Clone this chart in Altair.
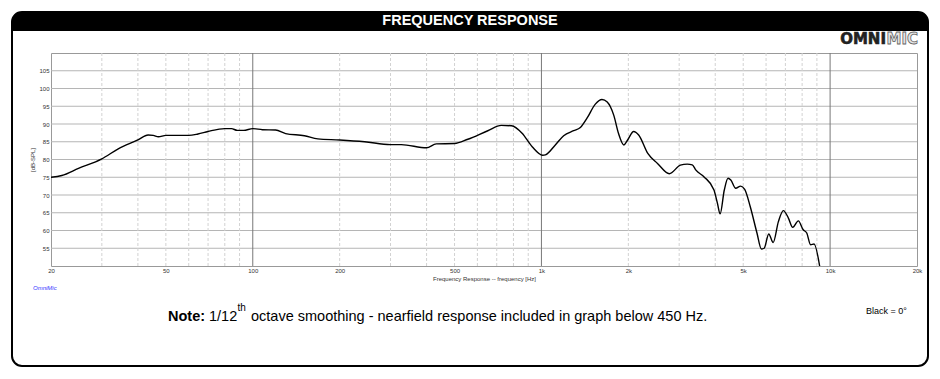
import altair as alt
import pandas as pd

# ---- data ----
freq_hz = [20, 21.8, 24.9, 30, 34.2, 40, 43.4, 45.2, 47.1, 50, 55, 60, 64.6, 70, 80, 84.4, 88.3, 93,
           100, 108, 120, 130, 151, 168, 200, 244, 300, 327, 400, 432, 500, 556, 652, 726, 788, 857,
           929, 1010, 1032, 1117, 1194, 1293, 1364, 1440, 1537, 1621, 1690, 1780, 1850, 1930, 1989,
           2086, 2172, 2336, 2524, 2774, 3028, 3200, 3330, 3430, 3660, 3960, 4070, 4160, 4300, 4430,
           4530, 4710, 4900, 5060, 5290, 5580, 5780, 5910, 6130, 6350, 6620, 6890, 7170, 7420, 7760,
           8070, 8300, 8560, 8800, 9200]
spl_db = [75.0, 75.5, 77.5, 80.2, 83.0, 85.5, 86.9, 86.8, 86.4, 86.8, 86.8, 86.8, 87.2, 87.9, 88.7, 88.7, 88.2, 88.2,
          88.7, 88.4, 88.3, 87.3, 86.7, 85.8, 85.5, 85.0, 84.2, 84.2, 83.3, 84.4, 84.5, 85.7, 88.1, 89.6, 89.5, 87.4,
          83.6, 81.2, 81.3, 84.1, 86.7, 88.1, 89.0, 91.7, 95.6, 96.9, 96.2, 92.5, 87.3, 84.1, 85.5,
          87.9, 86.9, 81.7, 78.9, 76.0, 78.4, 78.7, 78.5, 77.0, 75.1, 71.4, 67.7, 64.7, 71.4, 74.7,
          74.2, 71.9, 72.5, 71.6, 66.7, 59.3, 54.8, 55.0, 59.0, 56.6, 62.5, 65.6, 63.5, 60.9, 62.7,
          60.2, 59.3, 56.0, 56.2, 50.0]

x_ticks = [20, 50, 100, 200, 500, 1000, 2000, 5000, 10000, 20000]
y_ticks = [55, 60, 65, 70, 75, 80, 85, 90, 95, 100, 105]
minor_freqs = [30, 40, 50, 60, 70, 80, 90, 200, 300, 400, 500, 600, 700, 800, 900,
               2000, 3000, 4000, 5000, 6000, 7000, 8000, 9000]
major_freqs = [100, 1000, 10000]

chart_title = "FREQUENCY RESPONSE"
x_title = "Frequency Response -- frequency [Hz]"
y_title = "[dB-SPL]"
note_bold = "Note:"
note_a = "1/12"
note_sup = "th"
note_b = "octave smoothing - nearfield response included in graph below 450 Hz."
legend_text = "Black = 0°"
brand_small = "OmniMic"

W, H = 866, 213
xscale = alt.Scale(type="log", domain=[20, 20000], nice=False)
yscale = alt.Scale(domain=[50, 110], nice=False, zero=False)

xaxis = alt.Axis(values=x_ticks, title=x_title,
                 labelExpr="datum.value >= 1000 ? (datum.value/1000) + 'k' : datum.value + ''",
                 labelFontSize=6, labelColor="#333", labelPadding=1, labelOverlap=False,
                 labelFlush=False, ticks=False, domain=False, grid=False,
                 titleFontSize=6, titleFontWeight="normal", titleColor="#333", titlePadding=2)
yaxis = alt.Axis(values=y_ticks, title=y_title, labelFontSize=6, labelColor="#333",
                 labelPadding=2, labelFlush=False, ticks=False, domain=False, grid=False,
                 titleFontSize=6, titleFontWeight="normal", titleColor="#333", titlePadding=3)

one = pd.DataFrame({"a": [0]})
curve = pd.DataFrame({"f": freq_hz, "db": spl_db})

frame = alt.Chart(one).mark_rect(filled=False, stroke="black", strokeWidth=2, cornerRadius=10).encode(
    x=alt.value(-39), x2=alt.value(877), y=alt.value(-41), y2=alt.value(313))
bar = alt.Chart(one).mark_rect(fill="black", cornerRadiusTopLeft=10, cornerRadiusTopRight=10).encode(
    x=alt.value(-39), x2=alt.value(877), y=alt.value(-41), y2=alt.value(-22))
title_txt = alt.Chart(one).mark_text(text=chart_title, color="white", font="Liberation Sans",
                                     fontWeight="bold", fontSize=14.5, align="center", baseline="middle").encode(
    x=alt.value(419), y=alt.value(-32))
logo1 = alt.Chart(one).mark_text(text="OMNI", color="#222", stroke="#222", strokeWidth=0.6,
                                 font="DejaVu Sans", fontWeight="bold",
                                 fontSize=15, align="right", baseline="alphabetic").encode(
    x=alt.value(835), y=alt.value(-9.5))
logo2 = alt.Chart(one).mark_text(text="MIC", color="#e6e6e6", stroke="#666", strokeWidth=0.8,
                                 font="DejaVu Sans", fontWeight="bold", fontSize=15, align="left",
                                 baseline="alphabetic").encode(
    x=alt.value(835.5), y=alt.value(-9.5))

hgrid = alt.Chart(pd.DataFrame({"db": y_ticks})).mark_rule(color="#b5b5b5", strokeWidth=1).encode(
    y=alt.Y("db:Q", scale=yscale, axis=yaxis))
vminor = alt.Chart(pd.DataFrame({"f": minor_freqs})).mark_rule(color="#d2d2d2", strokeWidth=1,
                                                                 strokeDash=[3, 2]).encode(
    x=alt.X("f:Q", scale=xscale, axis=xaxis))
vmajor = alt.Chart(pd.DataFrame({"f": major_freqs})).mark_rule(color="#777777", strokeWidth=1).encode(
    x=alt.X("f:Q", scale=xscale, axis=xaxis))

line = alt.Chart(curve).mark_line(color="black", strokeWidth=1.4, interpolate="monotone", clip=True).encode(
    x=alt.X("f:Q", scale=xscale, axis=xaxis),
    y=alt.Y("db:Q", scale=yscale, axis=yaxis),
    order=alt.Order("f:Q"))

n1 = alt.Chart(one).mark_text(text=note_bold, fontWeight="bold", fontSize=14.5, align="left",
                              baseline="alphabetic", color="black").encode(x=alt.value(117), y=alt.value(268))
n2 = alt.Chart(one).mark_text(text=note_a, fontSize=14.5, align="left", baseline="alphabetic",
                              color="black").encode(x=alt.value(158), y=alt.value(268))
n3 = alt.Chart(one).mark_text(text=note_sup, fontSize=10, align="left", baseline="alphabetic",
                              color="black").encode(x=alt.value(186.5), y=alt.value(258))
n4 = alt.Chart(one).mark_text(text=note_b, fontSize=14.5, align="left", baseline="alphabetic",
                              color="black").encode(x=alt.value(200), y=alt.value(268))
leg = alt.Chart(one).mark_text(text=legend_text, fontSize=9, align="left", baseline="alphabetic",
                               color="black").encode(x=alt.value(815), y=alt.value(261))
brand = alt.Chart(one).mark_text(text=brand_small, fontSize=6, fontStyle="italic", align="left",
                                 baseline="alphabetic", color="#3333ff").encode(x=alt.value(-18), y=alt.value(237))

chart = alt.layer(frame, bar, title_txt, logo1, logo2, hgrid, vminor, vmajor, line,
                  n1, n2, n3, n4, leg, brand).properties(
    width=W, height=H,
    autosize=alt.AutoSizeParams(type="none"),
    padding={"left": 43, "top": 45, "right": 15, "bottom": 105},
).configure(font="Liberation Sans").configure_view(stroke="#999999", strokeWidth=1)

chart.save("out.html", embed_options={"renderer": "svg", "actions": False})
